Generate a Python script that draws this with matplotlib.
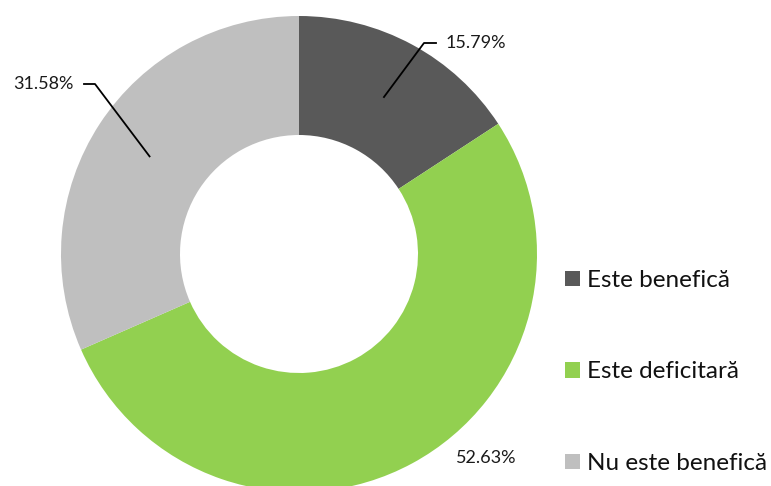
import numpy as np
import matplotlib.pyplot as plt
from matplotlib.patches import Patch

labels = ["Este benefică", "Este deficitară", "Nu este benefică"]
shares = [15.79, 52.63, 31.58]
colors = ["#595959", "#92D050", "#BFBFBF"]

plt.rcParams["font.family"] = ["Lato", "DejaVu Sans"]

W, H = 771, 486
fig = plt.figure(figsize=(W / 100, H / 100), dpi=100)

# donut: centre (299, 254) px, outer radius 238 px
cx, cy, R = 299, 254, 238
ax = fig.add_axes([(cx - R) / W, (H - cy - R) / H, 2 * R / W, 2 * R / H])
wedges, _ = ax.pie(shares, colors=colors, startangle=90, counterclock=False,
                   radius=1, wedgeprops=dict(width=0.5, linewidth=0))
ax.set_xlim(-1, 1)
ax.set_ylim(-1, 1)
ax.axis("off")
for w in wedges:
    w.set_clip_on(False)


def px(x, y):
    return (x - cx) / R, (cy - y) / R


lab_fs = 13
# labels with leader lines
for i, (elbow, end, txt_x, ha) in {
    0: ((424, 43), (436, 43), 446, "left"),
    2: ((95, 84), (84, 84), 74, "right"),
}.items():
    w = wedges[i]
    ang = np.deg2rad((w.theta1 + w.theta2) / 2)
    sx, sy = 0.75 * np.cos(ang), 0.75 * np.sin(ang)
    ex, ey = px(*elbow)
    hx, hy = px(*end)
    ax.plot([sx, ex, hx], [sy, ey, hy], color="black", lw=1.3, clip_on=False)
    tx, ty = px(txt_x, end[1])
    ax.text(tx, ty, f"{shares[i]:.2f}%", ha=ha, va="center", fontsize=lab_fs,
            color="#1a1a1a")

tx, ty = px(486, 458)
ax.text(tx, ty, f"{shares[1]:.2f}%", ha="center", va="center", fontsize=lab_fs,
        color="#1a1a1a")

handles = [Patch(facecolor=c, edgecolor="none") for c in colors]
fig.legend(handles, labels, loc="center left", bbox_to_anchor=(565 / W, 1 - 372 / H),
           frameon=False, fontsize=17.5, handlelength=0.62, handleheight=0.62,
           handletextpad=0.3, labelspacing=2.9, borderaxespad=0, borderpad=0,
           labelcolor="#111111")

fig.savefig("out.png", dpi=100)
